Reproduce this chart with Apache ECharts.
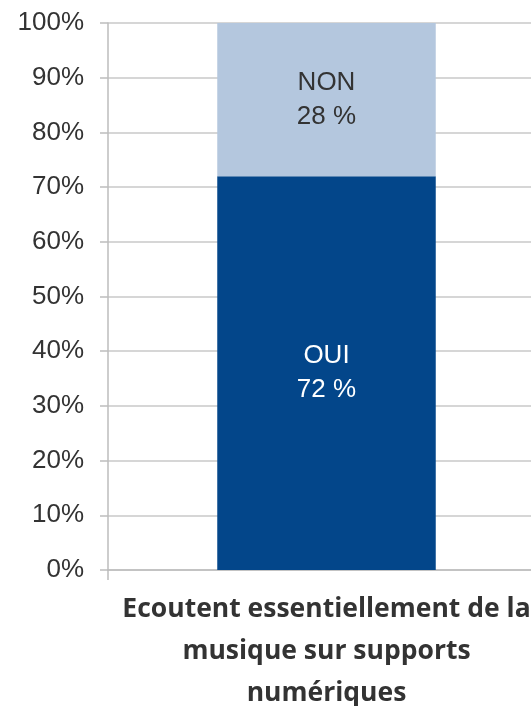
<!DOCTYPE html>
<html><head><meta charset="utf-8">
<script src="https://cdn.jsdelivr.net/npm/echarts@6/dist/echarts.min.js"></script>
<style>html,body{margin:0;padding:0;background:#fff}#c{width:531px;height:706px}</style>
</head><body><div id="c"></div>
<script>
const categories = ["Ecoutent essentiellement de la\nmusique sur supports\nnumériques"];
const ouiValues = [72];
const nonValues = [28];
const seriesNames = ["OUI", "NON"];
const yTicks = [0, 10, 20, 30, 40, 50, 60, 70, 80, 90, 100];

const chart = echarts.init(document.getElementById('c'), null, {renderer: 'canvas'});
chart.setOption({
  animation: false,
  grid: {left: 108, right: -14, top: 23, bottom: 136, outerBoundsMode: 'none', containLabel: false},
  xAxis: {
    type: 'category',
    data: categories,
    axisLine: {lineStyle: {color: '#bdbdbd', width: 1.5}},
    axisTick: {show: true, length: 10, lineStyle: {color: '#bdbdbd', width: 1.5}},
    axisLabel: {
      margin: 18, color: '#333', fontFamily: 'Open Sans', fontWeight: 'bold', fontSize: 26.5,
      lineHeight: 42, interval: 0, hideOverlap: false
    }
  },
  yAxis: {
    type: 'value', min: yTicks[0], max: yTicks[yTicks.length - 1], interval: 10,
    axisLine: {show: true, lineStyle: {color: '#bdbdbd', width: 1.5}},
    axisTick: {show: true, length: 8, lineStyle: {color: '#bdbdbd', width: 1.5}},
    splitLine: {lineStyle: {color: '#c8c8c8', width: 1.5}},
    axisLabel: {formatter: '{value}%', margin: 24, color: '#333', fontFamily: 'Liberation Sans', fontSize: 26}
  },
  series: [
    {
      name: seriesNames[0], type: 'bar', stack: 's', data: ouiValues, barWidth: '50%',
      itemStyle: {color: '#03468a'},
      label: {show: true, position: 'inside', formatter: p => p.seriesName + '\n' + p.value + ' %',
        color: '#fff', fontFamily: 'Liberation Sans', fontSize: 26, lineHeight: 34}
    },
    {
      name: seriesNames[1], type: 'bar', stack: 's', data: nonValues, barWidth: '50%',
      itemStyle: {color: '#b4c7de'},
      label: {show: true, position: 'inside', formatter: p => p.seriesName + '\n' + p.value + ' %',
        color: '#333', fontFamily: 'Liberation Sans', fontSize: 26, lineHeight: 34}
    }
  ]
});
</script></body></html>
